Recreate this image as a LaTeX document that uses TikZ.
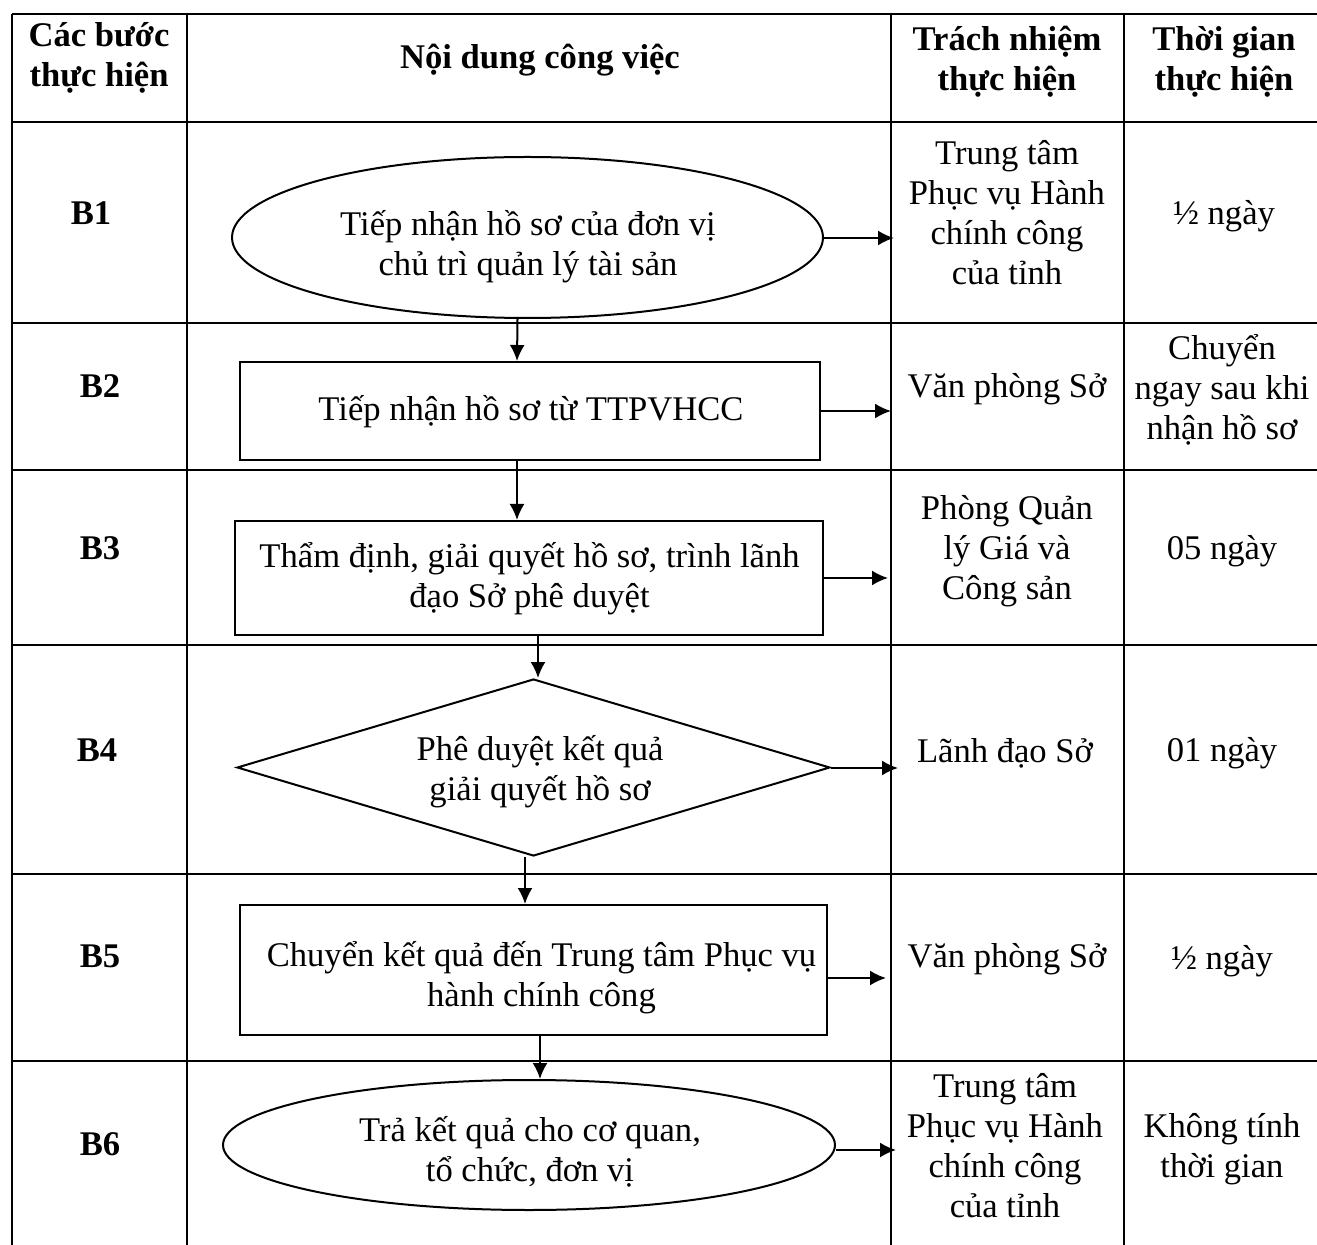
\documentclass[tikz,border=0pt]{standalone}
\usepackage{fontspec}
\setmainfont{Liberation Serif}
\usetikzlibrary{shapes.geometric,arrows.meta,calc}
\begin{document}
\begin{tikzpicture}[x=0.5pt,y=-0.5pt,
  txt/.style={align=center,font=\fontsize{17.3}{20}\selectfont,inner sep=0pt},
  hdr/.style={align=center,font=\bfseries\fontsize{17.3}{20}\selectfont,inner sep=0pt},
  shp/.style={draw,line width=1pt,inner sep=0pt},
  rule/.style={line width=1pt},
  arr/.style={line width=1pt,-{Latex[length=8pt,width=7.5pt]}}]
\useasboundingbox (0,0) rectangle (1317,1245);
% table rules
\draw[rule] (12,14) -- (1317,14);
\foreach \yy in {122,323,470,645,874,1061} \draw[rule] (12,\yy) -- (1317,\yy);
\foreach \xx in {12,187,891,1124} \draw[rule] (\xx,14) -- (\xx,1245);
% headers
\node[hdr] (h1) at (99,58) {Các bước\\thực hiện};
\node[hdr] (h2) at (540,60) {Nội dung công việc};
\node[hdr] (h3) at (1007,62) {Trách nhiệm\\thực hiện};
\node[hdr] (h4) at (1224,62) {Thời gian\\thực hiện};
% step labels
\node[hdr] (s1) at (91,213) {B1};
\node[hdr] (s2) at (100,386) {B2};
\node[hdr] (s3) at (100,548) {B3};
\node[hdr] (s4) at (97,750) {B4};
\node[hdr] (s5) at (100,956) {B5};
\node[hdr] (s6) at (100,1144) {B6};
% shapes
\node[shp,ellipse,minimum width=295.5pt,minimum height=80.5pt] (b1) at (527.5,237.5) {};
\node[shp,rectangle,minimum width=290pt,minimum height=49pt] (b2) at (530,411) {};
\node[shp,rectangle,minimum width=294pt,minimum height=57pt] (b3) at (529,578) {};
\node[shp,diamond,aspect=3.35,minimum width=296.5pt,minimum height=88.5pt] (b4) at (533.5,767.5) {};
\node[shp,rectangle,minimum width=293.5pt,minimum height=65pt] (b5) at (533.5,970) {};
\node[shp,ellipse,minimum width=306pt,minimum height=65pt] (b6) at (529,1145) {};
% shape texts
\node[txt] (b1t) at (528,247) {Tiếp nhận hồ sơ của đơn vị\\chủ trì quản lý tài sản};
\node[txt] (b2t) at (531,412) {Tiếp nhận hồ sơ từ TTPVHCC};
\node[txt] (b3t) at (529.5,579) {Thẩm định, giải quyết hồ sơ, trình lãnh\\đạo Sở phê duyệt};
\node[txt] (b4t) at (540,772) {Phê duyệt kết quả\\giải quyết hồ sơ};
\node[txt] (b5t) at (541.5,978) {Chuyển kết quả đến Trung tâm Phục vụ\\hành chính công};
\node[txt] (b6t) at (530,1152) {Trả kết quả cho cơ quan,\\tổ chức, đơn vị};
% responsibility
\node[txt] (r1) at (1007,213) {Trung tâm\\Phục vụ Hành\\chính công\\của tỉnh};
\node[txt] (r2) at (1007,389) {Văn phòng Sở};
\node[txt] (r3) at (1007,551) {Phòng Quản\\lý Giá và\\Công sản};
\node[txt] (r4) at (1005,753) {Lãnh đạo Sở};
\node[txt] (r5) at (1007,959) {Văn phòng Sở};
\node[txt] (r6) at (1005,1146) {Trung tâm\\Phục vụ Hành\\chính công\\của tỉnh};
% time
\node[txt] (t1) at (1224,216) {½ ngày};
\node[txt] (t2) at (1222,390) {Chuyển\\ngay sau khi\\nhận hồ sơ};
\node[txt] (t3) at (1222,551) {05 ngày};
\node[txt] (t4) at (1222,753) {01 ngày};
\node[txt] (t5) at (1222,961) {½ ngày};
\node[txt] (t6) at (1222,1149) {Không tính\\thời gian};
% arrow ends
\coordinate (e1) at (894,238);
\coordinate (e2) at (891,411);
\coordinate (e3) at (888,578);
\coordinate (e4) at (898,768);
\coordinate (e5) at (886,978);
\coordinate (e6) at (896,1150);
% vertical connectors
\draw[arr] ($(b1.south)+(-10,0)$) -- ($(b2.north)+(-13,0)$);
\draw[arr] ($(b2.south)+(-13,0)$) -- ($(b3.north)+(-12,0)$);
\draw[arr] ($(b3.south)+(9,0)$) -- ($(b4.north)+(4.5,0)$);
\draw[arr] ($(b4.south)+(-8.5,0)$) -- ($(b5.north)+(-8.5,0)$);
\draw[arr] ($(b5.south)+(6.5,0)$) -- ($(b6.north)+(11,0)$);
% horizontal connectors
\draw[arr] (b1.east |- e1) -- (e1);
\draw[arr] (b2.east |- e2) -- (e2);
\draw[arr] (b3.east |- e3) -- (e3);
\draw[arr] (b4.east |- e4) -- (e4);
\draw[arr] (b5.east |- e5) -- (e5);
\draw[arr] (b6.east |- e6) -- (e6);
\end{tikzpicture}
\end{document}
